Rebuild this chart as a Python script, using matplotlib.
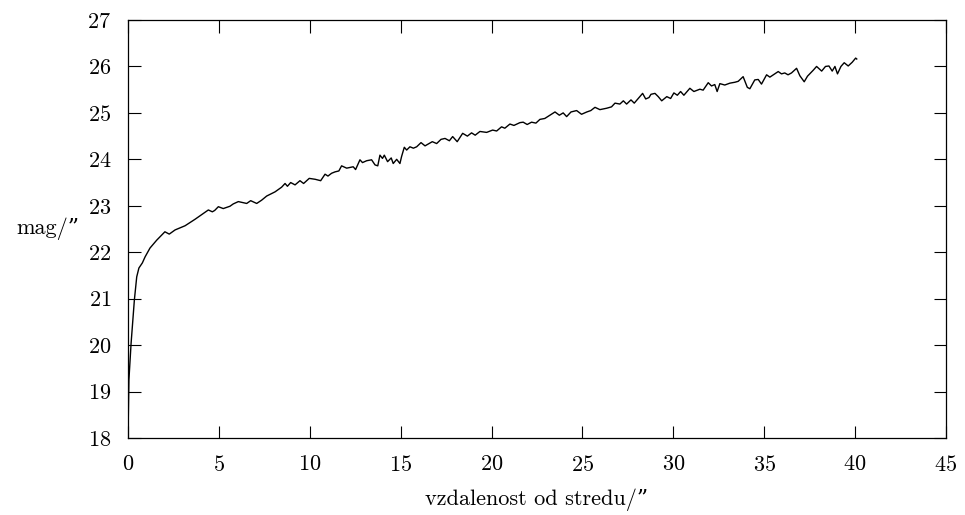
import matplotlib
matplotlib.use('Agg')
import matplotlib.pyplot as plt
import numpy as np

# profil jasnosti, hodnoty
r = [0.0, 0.05, 0.17, 0.35, 0.48, 0.6, 0.79, 0.94, 1.21, 1.58, 2.03, 2.27, 2.59, 3.14, 3.69,
     4.42, 4.64, 4.77, 4.97, 5.24, 5.61, 5.79, 6.07, 6.53, 6.75, 7.08, 7.35, 7.63, 8.09, 8.45,
     8.64, 8.77, 8.95, 9.19, 9.46, 9.66, 9.97, 10.3, 10.6, 10.84, 11.0, 11.2, 11.39, 11.6, 11.75,
     12.03, 12.39, 12.52, 12.76, 12.9, 13.13, 13.4, 13.59, 13.74, 13.86, 14.0, 14.1, 14.28, 14.48,
     14.59, 14.78, 14.96, 15.05, 15.2, 15.33, 15.51, 15.7, 15.88, 16.12, 16.34, 16.56, 16.74,
     16.98, 17.22, 17.44, 17.68, 17.86, 18.11, 18.41, 18.67, 18.9, 19.1, 19.36, 19.73, 20.06,
     20.28, 20.55, 20.73, 21.01, 21.23, 21.56, 21.74, 21.96, 22.2, 22.44, 22.66, 22.93, 23.21,
     23.49, 23.73, 23.94, 24.13, 24.37, 24.68, 24.95, 25.24, 25.46, 25.69, 25.96, 26.33, 26.6,
     26.79, 27.06, 27.25, 27.43, 27.67, 27.85, 28.07, 28.31, 28.48, 28.66, 28.77, 28.99, 29.17,
     29.36, 29.64, 29.85, 30.03, 30.22, 30.4, 30.58, 30.91, 31.13, 31.46, 31.64, 31.92, 32.1,
     32.28, 32.41, 32.56, 32.83, 33.11, 33.39, 33.57, 33.84, 34.07, 34.21, 34.48, 34.67, 34.85,
     35.13, 35.31, 35.5, 35.77, 35.95, 36.13, 36.31, 36.5, 36.78, 36.96, 37.2, 37.38, 37.7,
     37.88, 38.16, 38.37, 38.56, 38.74, 38.89, 39.03, 39.22, 39.4, 39.62, 39.84, 40.03, 40.09]
mag = [18.03, 19.25, 20.04, 20.97, 21.47, 21.66, 21.77, 21.9, 22.09, 22.26, 22.44, 22.39, 22.48,
       22.57, 22.71, 22.91, 22.87, 22.9, 22.98, 22.94, 22.99, 23.04, 23.09, 23.05, 23.11, 23.05,
       23.12, 23.21, 23.30, 23.40, 23.48, 23.42, 23.50, 23.45, 23.54, 23.48, 23.59, 23.57, 23.54,
       23.68, 23.64, 23.70, 23.73, 23.75, 23.86, 23.81, 23.84, 23.78, 23.99, 23.93, 23.97, 23.99,
       23.88, 23.86, 24.09, 24.02, 24.09, 23.95, 24.03, 23.91, 24.0, 23.91, 24.06, 24.26, 24.2,
       24.27, 24.24, 24.27, 24.36, 24.29, 24.34, 24.38, 24.34, 24.43, 24.45, 24.4, 24.49, 24.38,
       24.56, 24.5, 24.57, 24.52, 24.6, 24.58, 24.63, 24.61, 24.70, 24.67, 24.76, 24.73, 24.79,
       24.8, 24.75, 24.8, 24.78, 24.86, 24.88, 24.95, 25.02, 24.95, 25.0, 24.92, 25.02, 25.05,
       24.97, 25.02, 25.05, 25.12, 25.07, 25.10, 25.13, 25.21, 25.19, 25.26, 25.19, 25.28, 25.21,
       25.31, 25.42, 25.3, 25.33, 25.4, 25.42, 25.35, 25.26, 25.35, 25.31, 25.43, 25.38, 25.46,
       25.38, 25.53, 25.46, 25.51, 25.49, 25.65, 25.58, 25.61, 25.46, 25.63, 25.6, 25.64, 25.66,
       25.68, 25.78, 25.55, 25.52, 25.71, 25.72, 25.62, 25.82, 25.77, 25.82, 25.89, 25.84, 25.86,
       25.82, 25.86, 25.96, 25.8, 25.67, 25.79, 25.92, 26.0, 25.9, 26.0, 26.01, 25.9, 26.0, 25.84,
       26.0, 26.08, 26.01, 26.09, 26.18, 26.16]

plt.rcParams['font.family'] = ['cmr10', 'DejaVu Serif']
plt.rcParams['axes.formatter.use_mathtext'] = True
plt.rcParams['mathtext.fontset'] = 'cm'

fig = plt.figure(figsize=(9.65, 5.15), dpi=100)
ax = fig.add_axes([128/965, 1-438/515, (946-128)/965, (438-20)/515])
ax.plot(r, mag, 'k-', lw=1.0)
ax.set_xlim(0, 45)
ax.set_ylim(18, 27)
ax.set_xticks(range(0, 46, 5))
ax.set_yticks(range(18, 28))
ax.tick_params(direction='in', top=True, right=True, length=9, width=0.8,
               labelsize=16, pad=12)
for s in ax.spines.values():
    s.set_linewidth(0.9)
ax.set_xlabel('vzdalenost od stredu/\u201d', fontsize=16, labelpad=10)
ax.set_ylabel('mag/\u201d', fontsize=16, rotation=0, ha='right', va='center', labelpad=6)
fig.savefig('out.png', dpi=100)
